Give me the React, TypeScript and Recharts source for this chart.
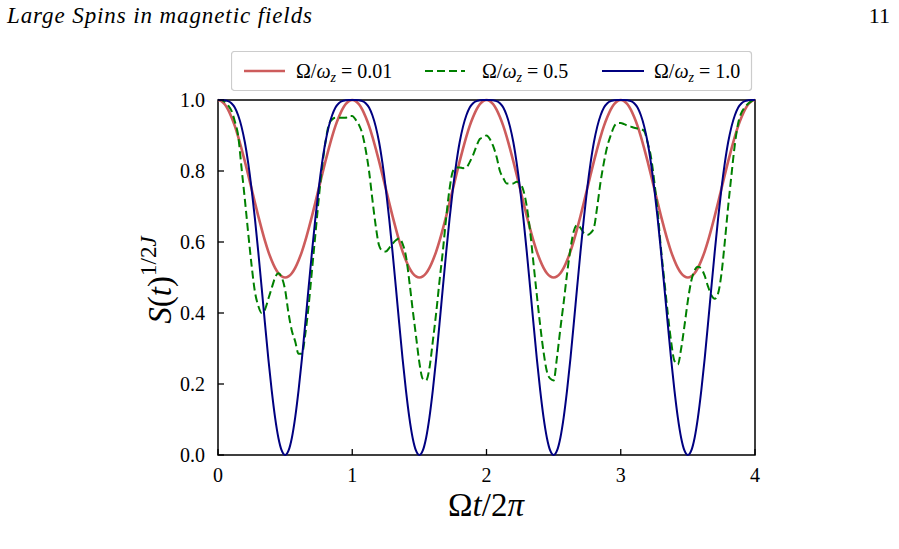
import { LineChart, Line, XAxis, YAxis, Legend, ReferenceArea } from 'recharts';

// sample grid: Ωt/2π from 0 to 4 in steps of 1/40
const T = Array.from({ length: 161 }, (_, i) => i / 40);

// Ω/ωz = 0.01
const RED = [
  1.0, 0.997, 0.988, 0.973, 0.952, 0.927, 0.897, 0.863, 0.827, 0.789, 0.75, 0.711, 0.673, 0.637, 0.603, 0.573, 0.548, 0.527, 0.512, 0.503,
  0.5, 0.503, 0.512, 0.527, 0.548, 0.573, 0.603, 0.637, 0.673, 0.711, 0.75, 0.789, 0.827, 0.863, 0.897, 0.927, 0.952, 0.973, 0.988, 0.997,
  1.0, 0.997, 0.988, 0.973, 0.952, 0.927, 0.897, 0.863, 0.827, 0.789, 0.75, 0.711, 0.673, 0.637, 0.603, 0.573, 0.548, 0.527, 0.512, 0.503,
  0.5, 0.503, 0.512, 0.527, 0.548, 0.573, 0.603, 0.637, 0.673, 0.711, 0.75, 0.789, 0.827, 0.863, 0.897, 0.927, 0.952, 0.973, 0.988, 0.997,
  1.0, 0.997, 0.988, 0.973, 0.952, 0.927, 0.897, 0.863, 0.827, 0.789, 0.75, 0.711, 0.673, 0.637, 0.603, 0.573, 0.548, 0.527, 0.512, 0.503,
  0.5, 0.503, 0.512, 0.527, 0.548, 0.573, 0.603, 0.637, 0.673, 0.711, 0.75, 0.789, 0.827, 0.863, 0.897, 0.927, 0.952, 0.973, 0.988, 0.997,
  1.0, 0.997, 0.988, 0.973, 0.952, 0.927, 0.897, 0.863, 0.827, 0.789, 0.75, 0.711, 0.673, 0.637, 0.603, 0.573, 0.548, 0.527, 0.512, 0.503,
  0.5, 0.503, 0.512, 0.527, 0.548, 0.573, 0.603, 0.637, 0.673, 0.711, 0.75, 0.789, 0.827, 0.863, 0.897, 0.927, 0.952, 0.973, 0.988, 0.997,
  1.0,
];

// Ω/ωz = 0.5
const GREEN = [
  1.0, 1.0, 0.995, 0.985, 0.97, 0.94, 0.9, 0.81, 0.72, 0.625, 0.535, 0.46, 0.42, 0.4, 0.41, 0.44, 0.47, 0.5, 0.512, 0.5,
  0.465, 0.4, 0.35, 0.32, 0.285, 0.285, 0.34, 0.42, 0.52, 0.62, 0.72, 0.81, 0.88, 0.93, 0.945, 0.95, 0.95, 0.95, 0.95, 0.955,
  0.955, 0.945, 0.93, 0.905, 0.86, 0.8, 0.72, 0.645, 0.59, 0.575, 0.573, 0.583, 0.595, 0.605, 0.61, 0.595, 0.56, 0.49, 0.41, 0.335,
  0.26, 0.215, 0.21, 0.245, 0.32, 0.4, 0.49, 0.575, 0.67, 0.75, 0.8, 0.81, 0.81, 0.808, 0.81, 0.825, 0.845, 0.87, 0.89, 0.895,
  0.9, 0.89, 0.87, 0.84, 0.8, 0.78, 0.765, 0.765, 0.765, 0.77, 0.765, 0.745, 0.7, 0.63, 0.54, 0.45, 0.365, 0.29, 0.235, 0.215,
  0.21, 0.275, 0.355, 0.43, 0.51, 0.58, 0.63, 0.648, 0.64, 0.625, 0.62, 0.625, 0.64, 0.7, 0.77, 0.825, 0.87, 0.9, 0.925, 0.935,
  0.935, 0.932, 0.928, 0.925, 0.922, 0.92, 0.918, 0.912, 0.88, 0.84, 0.77, 0.685, 0.58, 0.49, 0.4, 0.32, 0.265, 0.255, 0.3, 0.365,
  0.435, 0.49, 0.52, 0.53, 0.525, 0.505, 0.475, 0.45, 0.44, 0.455, 0.51, 0.6, 0.7, 0.79, 0.875, 0.935, 0.965, 0.98, 0.99, 0.997,
  1.0,
];

// Ω/ωz = 1.0
const BLUE = [
  1.0, 1.0, 0.999, 0.997, 0.991, 0.979, 0.957, 0.925, 0.881, 0.822, 0.75, 0.666, 0.572, 0.472, 0.37, 0.271, 0.182, 0.106, 0.048, 0.012,
  0.0, 0.012, 0.048, 0.106, 0.182, 0.271, 0.37, 0.472, 0.572, 0.666, 0.75, 0.822, 0.881, 0.925, 0.957, 0.979, 0.991, 0.997, 0.999, 1.0,
  1.0, 1.0, 0.999, 0.997, 0.991, 0.979, 0.957, 0.925, 0.881, 0.822, 0.75, 0.666, 0.572, 0.472, 0.37, 0.271, 0.182, 0.106, 0.048, 0.012,
  0.0, 0.012, 0.048, 0.106, 0.182, 0.271, 0.37, 0.472, 0.572, 0.666, 0.75, 0.822, 0.881, 0.925, 0.957, 0.979, 0.991, 0.997, 0.999, 1.0,
  1.0, 1.0, 0.999, 0.997, 0.991, 0.979, 0.957, 0.925, 0.881, 0.822, 0.75, 0.666, 0.572, 0.472, 0.37, 0.271, 0.182, 0.106, 0.048, 0.012,
  0.0, 0.012, 0.048, 0.106, 0.182, 0.271, 0.37, 0.472, 0.572, 0.666, 0.75, 0.822, 0.881, 0.925, 0.957, 0.979, 0.991, 0.997, 0.999, 1.0,
  1.0, 1.0, 0.999, 0.997, 0.991, 0.979, 0.957, 0.925, 0.881, 0.822, 0.75, 0.666, 0.572, 0.472, 0.37, 0.271, 0.182, 0.106, 0.048, 0.012,
  0.0, 0.012, 0.048, 0.106, 0.182, 0.271, 0.37, 0.472, 0.572, 0.666, 0.75, 0.822, 0.881, 0.925, 0.957, 0.979, 0.991, 0.997, 0.999, 1.0,
  1.0,
];

const X_TICKS = [0, 1, 2, 3, 4];
const Y_TICKS = [0, 0.2, 0.4, 0.6, 0.8, 1.0];
const RATIO_LABELS = ['0.01', '0.5', '1.0'];

const data = T.map((x, i) => ({ x, red: RED[i], green: GREEN[i], blue: BLUE[i] }));

const FONT = "'Liberation Serif', 'DejaVu Serif', serif";
const DASH = '8 4';

const series = [
  { key: 'red', color: '#cd5c5c', width: 2.6, dash: undefined as string | undefined },
  { key: 'green', color: '#008000', width: 2, dash: DASH },
  { key: 'blue', color: '#000080', width: 2, dash: undefined as string | undefined },
];

// ticks point into the plot, labels sit outside
const renderYTick = ({ x, y, payload }: any) => (
  <g key={`y-${payload.value}`}>
    <line x1={x} x2={x + 6} y1={y} y2={y} stroke="#000" strokeWidth={1.3} />
    <text x={x - 13} y={y} dy={7} textAnchor="end" fontSize={20} fontFamily={FONT} fill="#000">
      {Number(payload.value).toFixed(1)}
    </text>
  </g>
);

const renderXTick = ({ x, y, payload }: any) => (
  <g key={`x-${payload.value}`}>
    <line x1={x} x2={x} y1={y} y2={y - 6} stroke="#000" strokeWidth={1.3} />
    <text x={x} y={y + 27} textAnchor="middle" fontSize={20} fontFamily={FONT} fill="#000">
      {payload.value}
    </text>
  </g>
);

// legend handle and label positions inside the 522 x 40 frame
const LEGEND_ITEMS = [
  { line: [13, 54], text: 65 },
  { line: [194, 234], text: 251 },
  { line: [371, 413], text: 423 },
];

const renderLegend = () => (
  <svg width={522} height={40} style={{ display: 'block' }}>
    <rect x={0.5} y={0.5} width={520} height={39} rx={3} fill="#fff" fillOpacity={0.8} stroke="#cccccc" strokeWidth={1.2} />
    {series.map((s, i) => {
      const it = LEGEND_ITEMS[i];
      return (
        <g key={s.key}>
          <line x1={it.line[0]} x2={it.line[1]} y1={20} y2={20} stroke={s.color} strokeWidth={s.width} strokeDasharray={s.dash} />
          <text x={it.text} y={26.5} fontSize={20} fontFamily={FONT} fill="#000">
            <tspan>Ω/</tspan>
            <tspan fontStyle="italic">ω</tspan>
            <tspan fontStyle="italic" fontSize={14} dy={4}>z</tspan>
            <tspan dy={-4}>{` = ${RATIO_LABELS[i]}`}</tspan>
          </text>
        </g>
      );
    })}
  </svg>
);

export default function App() {
  return (
    <div style={{ position: 'absolute', left: 0, top: 0, width: 899, height: 549, background: '#fff' }}>
      <LineChart width={899} height={549} data={data} margin={{ top: 100, right: 144, bottom: 54, left: 158 }}>
        <XAxis
          dataKey="x"
          type="number"
          domain={[0, 4]}
          ticks={X_TICKS}
          interval={0}
          height={40}
          tickSize={0}
          tickMargin={0}
          axisLine={false}
          tick={renderXTick}
        />
        <YAxis
          type="number"
          domain={[0, 1]}
          ticks={Y_TICKS}
          interval={0}
          width={60}
          tickSize={0}
          tickMargin={0}
          axisLine={false}
          tick={renderYTick}
        />
        <Legend
          layout="horizontal"
          verticalAlign="middle"
          align="center"
          wrapperStyle={{ top: 51, left: 231, width: 522, height: 40 }}
          content={renderLegend}
        />
        {series.map((s) => (
          <Line
            key={s.key}
            dataKey={s.key}
            type="monotone"
            stroke={s.color}
            strokeWidth={s.width}
            strokeDasharray={s.dash}
            dot={false}
            activeDot={false}
            isAnimationActive={false}
          />
        ))}
        <ReferenceArea x1={0} x2={4} y1={0} y2={1} fill="none" stroke="#000" strokeWidth={1.5} />
      </LineChart>
      <svg width={899} height={549} style={{ position: 'absolute', left: 0, top: 0, pointerEvents: 'none' }}>
        <text x={7} y={23} fontSize={23} fontStyle="italic" fontFamily={FONT} textLength={305} lengthAdjust="spacing">
          Large Spins in magnetic fields
        </text>
        <text x={890} y={23} fontSize={22} fontFamily={FONT} textAnchor="end">
          11
        </text>
        <text x={486} y={516} fontSize={33} fontFamily={FONT} textAnchor="middle">
          <tspan>Ω</tspan>
          <tspan fontStyle="italic">t</tspan>
          <tspan>/2</tspan>
          <tspan fontStyle="italic">π</tspan>
        </text>
        <text transform="translate(171,280) rotate(-90)" fontSize={33} fontFamily={FONT} textAnchor="middle">
          <tspan fontStyle="italic">S</tspan>
          <tspan>(</tspan>
          <tspan fontStyle="italic">t</tspan>
          <tspan>)</tspan>
          <tspan fontSize={23} dy={-15}>1/2</tspan>
          <tspan fontSize={23} fontStyle="italic">J</tspan>
        </text>
      </svg>
    </div>
  );
}
